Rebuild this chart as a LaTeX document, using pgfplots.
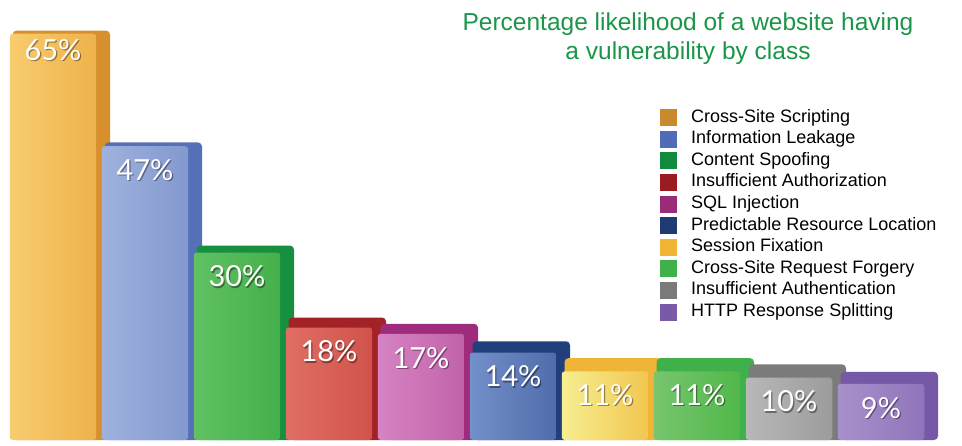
\documentclass[border=0pt]{standalone}
\usepackage{pgfplots}
\pgfplotsset{compat=1.18}
\usepackage{fontspec}
\setmainfont{Liberation Sans}
\newfontfamily\barfont{Lato}
\newcommand\labelfont{\barfont\fontsize{29}{29}\selectfont}
\definecolor{titlegreen}{RGB}{26,150,72}
\definecolor{c1L}{HTML}{F8CC6E}\definecolor{c1R}{HTML}{EEB24A}\definecolor{c1S}{HTML}{D8902F}\definecolor{g1}{HTML}{C98A2E}
\definecolor{c2L}{HTML}{9FB2DE}\definecolor{c2R}{HTML}{8398CE}\definecolor{c2S}{HTML}{5670B8}\definecolor{g2}{HTML}{506CB6}
\definecolor{c3L}{HTML}{60C163}\definecolor{c3R}{HTML}{44B04B}\definecolor{c3S}{HTML}{16903F}\definecolor{g3}{HTML}{0F8A3F}
\definecolor{c4L}{HTML}{E06E64}\definecolor{c4R}{HTML}{D0534B}\definecolor{c4S}{HTML}{A32226}\definecolor{g4}{HTML}{9B1C20}
\definecolor{c5L}{HTML}{D583C2}\definecolor{c5R}{HTML}{C263AA}\definecolor{c5S}{HTML}{9E2B7C}\definecolor{g5}{HTML}{9A2B79}
\definecolor{c6L}{HTML}{7490C9}\definecolor{c6R}{HTML}{506CAB}\definecolor{c6S}{HTML}{213F7C}\definecolor{g6}{HTML}{1F3B73}
\definecolor{c7L}{HTML}{F6EE90}\definecolor{c7R}{HTML}{F2C650}\definecolor{c7S}{HTML}{F0B536}\definecolor{g7}{HTML}{F1B434}
\definecolor{c8L}{HTML}{78C56E}\definecolor{c8R}{HTML}{50B84A}\definecolor{c8S}{HTML}{40B04A}\definecolor{g8}{HTML}{41B04A}
\definecolor{c9L}{HTML}{B8B8B8}\definecolor{c9R}{HTML}{9C9C9C}\definecolor{c9S}{HTML}{7B7B7B}\definecolor{g9}{HTML}{7A7A7A}
\definecolor{c10L}{HTML}{A890CB}\definecolor{c10R}{HTML}{9074BB}\definecolor{c10S}{HTML}{7559A7}\definecolor{g10}{HTML}{7A5AA8}
\pgfplotsset{
  backbar/.style={ybar, forget plot, bar width=1.06, bar shift=0.09, draw=none, fill=#1, rounded corners=4pt},
  frontbar/.style 2 args={ybar, forget plot, bar width=0.94, bar shift=0, draw=none, left color=#1, right color=#2, rounded corners=3pt},
}
\begin{document}
\begin{tikzpicture}
\begin{axis}[
  width=962pt, height=445pt, scale only axis,
  xmin=-0.5761, xmax=9.8804, ymin=-0.8, ymax=70.4,
  hide axis, clip=false,
  legend style={at={(rel axis cs:0.6861,0.7551)}, anchor=north west, draw=none, fill=none,
    inner sep=0pt, row sep=4.6pt, /tikz/column sep=14pt,
    font=\fontsize{18}{21}\selectfont,
    nodes={inner sep=0pt, text height=13pt, text depth=4pt}},
  legend cell align=left,
  legend image code/.code={\fill[#1, draw=none] (0pt,-8.5pt) rectangle (17pt,8.5pt);},
]
\path (rel axis cs:0,0) rectangle (rel axis cs:1,1);
% bar 1
\addplot[backbar=c1S] coordinates {(0,65.5)};
\addplot[frontbar={c1L}{c1R}] coordinates {(0,65)};
% bar 2
\addplot[backbar=c2S] coordinates {(1,47.6)};
\addplot[frontbar={c2L}{c2R}] coordinates {(1,47)};
% bar 3
\addplot[backbar=c3S] coordinates {(2,31.1)};
\addplot[frontbar={c3L}{c3R}] coordinates {(2,30)};
% bar 4
\addplot[backbar=c4S] coordinates {(3,19.6)};
\addplot[frontbar={c4L}{c4R}] coordinates {(3,18)};
% bar 5
\addplot[backbar=c5S] coordinates {(4,18.6)};
\addplot[frontbar={c5L}{c5R}] coordinates {(4,17)};
% bar 6
\addplot[backbar=c6S] coordinates {(5,15.8)};
\addplot[frontbar={c6L}{c6R}] coordinates {(5,14)};
% bar 7
\addplot[backbar=c7S] coordinates {(6,13.1)};
\addplot[frontbar={c7L}{c7R}] coordinates {(6,11)};
% bar 8
\addplot[backbar=c8S] coordinates {(7,13.1)};
\addplot[frontbar={c8L}{c8R}] coordinates {(7,11)};
% bar 9
\addplot[backbar=c9S] coordinates {(8,12.1)};
\addplot[frontbar={c9L}{c9R}] coordinates {(8,10)};
% bar 10
\addplot[backbar=c10S] coordinates {(9,10.9)};
\addplot[frontbar={c10L}{c10R}] coordinates {(9,9)};
% label shadows
\addplot[ybar, forget plot, bar width=0.94, bar shift=0, draw=none, fill=none,
  point meta=explicit symbolic, nodes near coords,
  every node near coord/.style={anchor=center, xshift=1.2pt, yshift=-25.2pt, text=black, opacity=0.4, font=\labelfont}]
  coordinates {(0,66.2)[65\%] (1,47)[47\%] (2,30)[30\%] (3,18)[18\%] (4,17)[17\%] (5,14)[14\%] (6,11)[11\%] (7,11)[11\%] (8,10)[10\%] (9,9)[9\%]};
% labels
\addplot[ybar, forget plot, bar width=0.94, bar shift=0, draw=none, fill=none,
  point meta=explicit symbolic, nodes near coords,
  every node near coord/.style={anchor=center, yshift=-24pt, text=white, font=\labelfont}]
  coordinates {(0,66.2)[65\%] (1,47)[47\%] (2,30)[30\%] (3,18)[18\%] (4,17)[17\%] (5,14)[14\%] (6,11)[11\%] (7,11)[11\%] (8,10)[10\%] (9,9)[9\%]};
% legend
\addlegendimage{fill=g1}\addlegendentry{Cross-Site Scripting}
\addlegendimage{fill=g2}\addlegendentry{Information Leakage}
\addlegendimage{fill=g3}\addlegendentry{Content Spoofing}
\addlegendimage{fill=g4}\addlegendentry{Insufficient Authorization}
\addlegendimage{fill=g5}\addlegendentry{SQL Injection}
\addlegendimage{fill=g6}\addlegendentry{Predictable Resource Location}
\addlegendimage{fill=g7}\addlegendentry{Session Fixation}
\addlegendimage{fill=g8}\addlegendentry{Cross-Site Request Forgery}
\addlegendimage{fill=g9}\addlegendentry{Insufficient Authentication}
\addlegendimage{fill=g10}\addlegendentry{HTTP Response Splitting}
% title
\node[align=center, text=titlegreen, font=\fontsize{24.5}{29}\selectfont, inner sep=0pt]
  at (rel axis cs:0.7152,0.9130) {Percentage likelihood of a website having\\a vulnerability by class};
\end{axis}
\end{tikzpicture}
\end{document}
